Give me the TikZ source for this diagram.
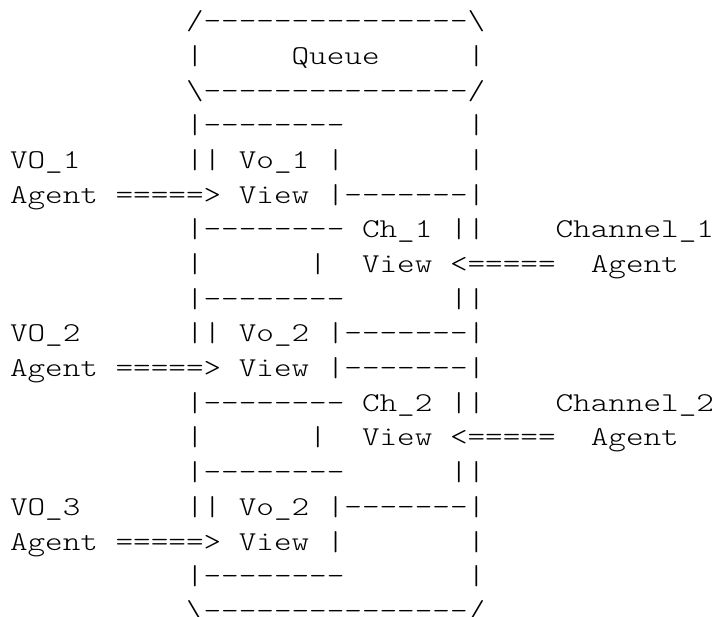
\documentclass[tikz,border=0pt]{standalone}
\usepackage{fontspec}
% light typewriter face, widened so that each cell is as wide as a Courier cell
\newfontfamily\asc{lmmonolt10-regular.otf}[FakeStretch=1.2325,Ligatures=TeXOff]
\tikzset{
  ascii/.style={font=\asc\fontsize{27.2pt}{34pt}\selectfont,
                inner sep=0pt, outer sep=0pt, anchor=base west}
}
\begin{document}
\begin{tikzpicture}
\useasboundingbox (0,0) rectangle (715pt,-617pt);
% one unit = one character cell (x) / one text line (y)
\begin{scope}[shift={(10pt,-29.8pt)}, x=17.6pt, y=-34.68pt]
  % queue frame, top
  \node[ascii] (qtop)   at (10,0) {/---------------\textbackslash};
  \node[ascii] (qleft)  at (10,1) {|};
  \node[ascii] (queue)  at (16,1) {Queue};
  \node[ascii] (qright) at (26,1) {|};
  \node[ascii] (qsep)   at (10,2) {\textbackslash---------------/};
  % VO_1 agent and its view
  \node[ascii] (r3a)  at (10,3) {|--------};
  \node[ascii] (r3b)  at (26,3) {|};
  \node[ascii] (vo1)  at (0,4)  {VO\_1};
  \node[ascii] (vv1)  at (10,4) {|| Vo\_1 |};
  \node[ascii] (r4b)  at (26,4) {|};
  \node[ascii] (ag1)  at (0,5)  {Agent =====> View |-------|};
  % channel 1
  \node[ascii] (ch1)  at (10,6) {|-------- Ch\_1 ||};
  \node[ascii] (chn1) at (31,6) {Channel\_1};
  \node[ascii] (r7a)  at (10,7) {|};
  \node[ascii] (r7b)  at (17,7) {|};
  \node[ascii] (cv1)  at (20,7) {View <=====};
  \node[ascii] (ca1)  at (33,7) {Agent};
  \node[ascii] (r8a)  at (10,8) {|--------};
  \node[ascii] (r8b)  at (25,8) {||};
  % VO_2 agent and its view
  \node[ascii] (vo2)  at (0,9)  {VO\_2};
  \node[ascii] (vv2)  at (10,9) {|| Vo\_2 |-------|};
  \node[ascii] (ag2)  at (0,10) {Agent =====> View |-------|};
  % channel 2
  \node[ascii] (ch2)  at (10,11) {|-------- Ch\_2 ||};
  \node[ascii] (chn2) at (31,11) {Channel\_2};
  \node[ascii] (r12a) at (10,12) {|};
  \node[ascii] (r12b) at (17,12) {|};
  \node[ascii] (cv2)  at (20,12) {View <=====};
  \node[ascii] (ca2)  at (33,12) {Agent};
  \node[ascii] (r13a) at (10,13) {|--------};
  \node[ascii] (r13b) at (25,13) {||};
  % VO_3 agent and its view
  \node[ascii] (vo3)  at (0,14)  {VO\_3};
  \node[ascii] (vv3)  at (10,14) {|| Vo\_2 |-------|};
  \node[ascii] (ag3)  at (0,15)  {Agent =====> View |};
  \node[ascii] (r15b) at (26,15) {|};
  \node[ascii] (r16a) at (10,16) {|--------};
  \node[ascii] (r16b) at (26,16) {|};
  % queue frame, bottom
  \node[ascii] (qbot) at (10,17) {\textbackslash---------------/};
\end{scope}
\end{tikzpicture}
\end{document}
